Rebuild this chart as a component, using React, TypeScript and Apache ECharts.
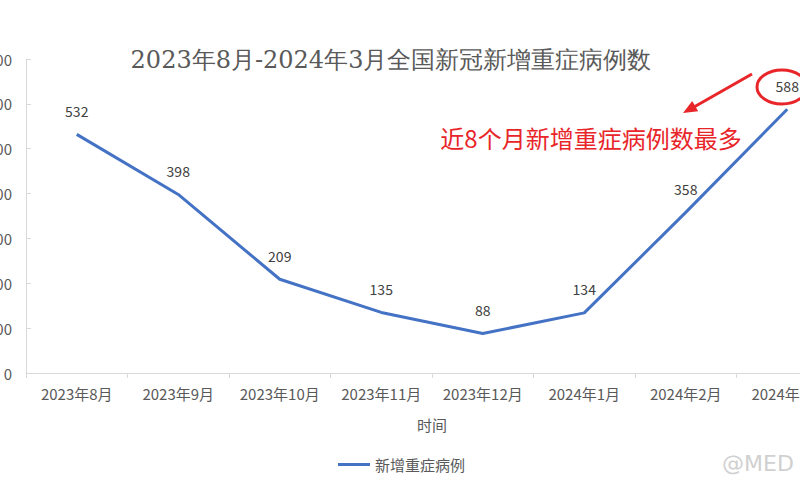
import React, { useEffect, useRef } from "react";
import * as echarts from "echarts";

const categories = ["2023年8月", "2023年9月", "2023年10月", "2023年11月", "2023年12月", "2024年1月", "2024年2月", "2024年3月"];
const values = [532, 398, 209, 135, 88, 134, 358, 588];
const seriesName = "新增重症病例";
const titleText = "2023年8月-2024年3月全国新冠新增重症病例数";
const noteText = "近8个月新增重症病例数最多";
const xName = "时间";

const OFFSET = 40;

export default function App() {
  const ref = useRef<HTMLDivElement>(null);
  useEffect(() => {
    if (!ref.current) return;
    const chart = echarts.init(ref.current, null, { renderer: "svg" });
    const font = "'Noto Sans CJK SC', 'Noto Sans', sans-serif";
    const red = "#e8262a";
    chart.setOption({
      animation: false,
      backgroundColor: "#ffffff",
      textStyle: { fontFamily: font },
      grid: { left: 26 + OFFSET, right: 900 - (838 + OFFSET), top: 59, bottom: 500 - 373 },
      xAxis: {
        type: "category",
        data: categories,
        boundaryGap: true,
        name: xName,
        nameLocation: "middle",
        nameGap: 44,
        nameTextStyle: { color: "#595959", fontSize: 15, fontFamily: font },
        axisLine: { lineStyle: { color: "#d9d9d9", width: 1 } },
        axisTick: { show: true, length: 5, interval: 0, lineStyle: { color: "#d9d9d9" } },
        axisLabel: { color: "#595959", fontSize: 15, margin: 13, interval: 0, fontFamily: font },
        splitLine: { show: false },
      },
      yAxis: {
        type: "value",
        min: 0,
        max: 700,
        interval: 100,
        axisLine: { show: true, lineStyle: { color: "#d9d9d9", width: 1 } },
        axisTick: { show: true, inside: true, length: 5, lineStyle: { color: "#d9d9d9" } },
        axisLabel: { color: "#595959", fontSize: 15, margin: 14, fontFamily: font },
        splitLine: { show: false },
      },
      legend: {
        data: [{ name: seriesName, icon: "rect", itemStyle: { color: "#4472C4", opacity: 1 } }],
        left: 333 + OFFSET,
        top: 452,
        itemWidth: 32,
        itemHeight: 3,
        itemGap: 6,
        textStyle: { color: "#595959", fontSize: 15, fontFamily: font },
      },
      series: [
        {
          name: seriesName,
          type: "line",
          data: values,
          symbol: "circle",
          symbolSize: 1,
          showSymbol: true,
          lineStyle: { color: "#4472C4", width: 3 },
          itemStyle: { color: "#4472C4", opacity: 0 },
          label: {
            show: true,
            position: "top",
            distance: 16,
            color: "#404040",
            fontSize: 14,
            fontFamily: font,
            opacity: 1,
          },
        },
      ],
      graphic: [
        {
          type: "text",
          x: 391 + OFFSET,
          y: 60,
          style: {
            text: titleText,
            fill: "#595959",
            font: "24px 'DejaVu Serif', 'Liberation Serif', serif",
            textAlign: "center",
            textVerticalAlign: "middle",
          },
        },
        {
          type: "text",
          x: 591 + OFFSET,
          y: 137,
          style: {
            text: noteText,
            fill: red,
            font: "24px 'Noto Sans CJK SC', sans-serif",
            textAlign: "center",
            textVerticalAlign: "middle",
          },
        },
        {
          type: "ellipse",
          shape: { cx: 782 + OFFSET, cy: 87, rx: 25, ry: 17 },
          style: { fill: "none", stroke: red, lineWidth: 3 },
        },
        {
          type: "line",
          shape: { x1: 752 + OFFSET, y1: 74, x2: 694 + OFFSET, y2: 107 },
          style: { stroke: red, lineWidth: 3 },
        },
        {
          type: "polygon",
          shape: {
            points: [
              [683 + OFFSET, 113],
              [698.2 + OFFSET, 111.3],
              [692.2 + OFFSET, 100.9],
            ],
          },
          style: { fill: red },
        },
        {
          type: "text",
          x: 722 + OFFSET,
          y: 463,
          style: {
            text: "@MED",
            fill: "#d0d0d0",
            font: "22px 'DejaVu Sans', sans-serif",
            textVerticalAlign: "middle",
          },
        },
      ],
    });
    return () => chart.dispose();
  }, []);
  return (
    <div style={{ position: "fixed", left: 0, top: 0, width: 800, height: 500, overflow: "hidden", background: "#fff" }}>
      <div ref={ref} style={{ position: "absolute", left: -OFFSET, top: 0, width: 900, height: 500 }} />
    </div>
  );
}
